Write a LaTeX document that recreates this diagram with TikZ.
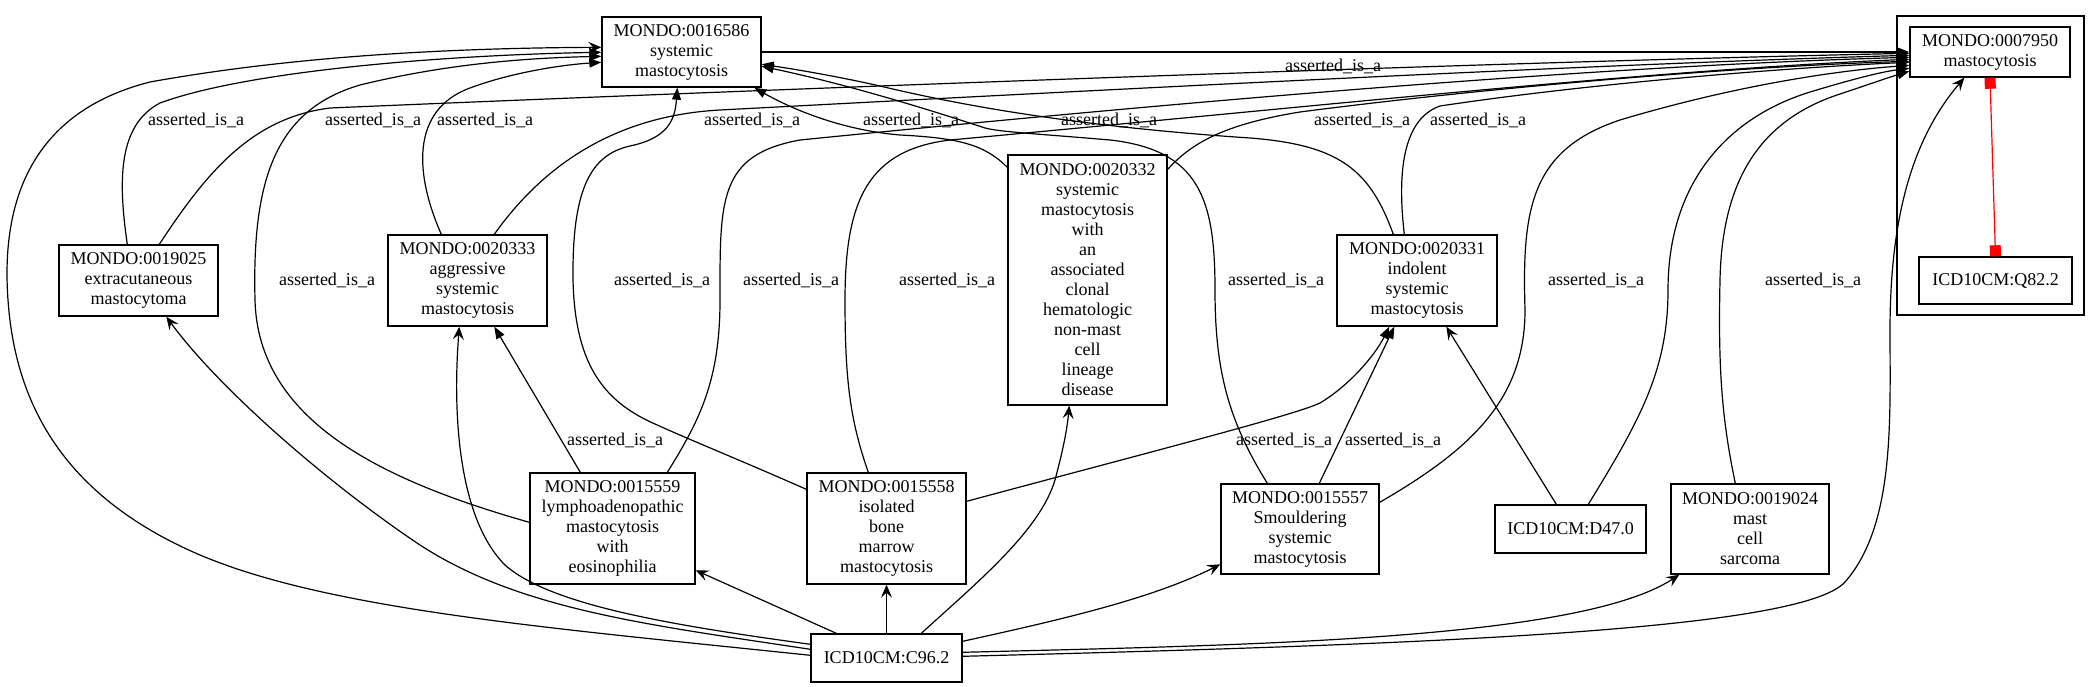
\documentclass[tikz,border=0pt]{standalone}
\usepackage{fontspec}
\setmainfont{Liberation Serif}
\newfontfamily\gvserif{Liberation Serif}
\usetikzlibrary{arrows.meta,calc}
\newcommand\gvfont{\gvserif\fontsize{18pt}{20pt}\selectfont}
\tikzset{
  box/.style={draw, line width=1.4pt, inner sep=0pt, align=center, font=\gvfont},
  lbl/.style={inner sep=0pt, font=\gvfont},
  isa/.style={line width=1.2pt, -{Triangle[length=12pt,width=9pt]}},
  xref/.style={line width=1.2pt, -{Stealth[length=13pt,width=11pt,inset=5pt]}},
  redlink/.style={draw=red, line width=1.2pt, {Square[length=11pt,fill=red]}-{Square[length=11pt,fill=red]}},
  cluster/.style={draw, line width=1.4pt}
}
\begin{document}
\begin{tikzpicture}[x=1pt,y=-1pt]
\fill[white] (0,0) rectangle (2092,687);
\useasboundingbox (0,0) rectangle (2092,687);

% cluster
\draw[cluster] (1897,16) rectangle (2084,315);

% nodes
\node[box, minimum width=159pt, minimum height=70pt] (a) at (681.5,52) {MONDO:0016586\\systemic\\mastocytosis};
\node[box, minimum width=160pt, minimum height=50pt] (b) at (1990,52) {MONDO:0007950\\mastocytosis};
\node[box, minimum width=153pt, minimum height=47pt] (q) at (1995.5,280.5) {ICD10CM:Q82.2};
\node[box, minimum width=159pt, minimum height=71pt] (c) at (138.5,280.5) {MONDO:0019025\\extracutaneous\\mastocytoma};
\node[box, minimum width=159pt, minimum height=91pt] (d) at (467.5,280.5) {MONDO:0020333\\aggressive\\systemic\\mastocytosis};
\node[box, minimum width=159pt, minimum height=250pt] (e) at (1087.5,280) {MONDO:0020332\\systemic\\mastocytosis\\with\\an\\associated\\clonal\\hematologic\\non-mast\\cell\\lineage\\disease};
\node[box, minimum width=160pt, minimum height=91pt] (f) at (1417,280.5) {MONDO:0020331\\indolent\\systemic\\mastocytosis};
\node[box, minimum width=165pt, minimum height=111pt] (g) at (612.5,528.5) {MONDO:0015559\\lymphoadenopathic\\mastocytosis\\with\\eosinophilia};
\node[box, minimum width=159pt, minimum height=111pt] (h) at (886.5,528.5) {MONDO:0015558\\isolated\\bone\\marrow\\mastocytosis};
\node[box, minimum width=158pt, minimum height=90pt] (i) at (1300,529) {MONDO:0015557\\Smouldering\\systemic\\mastocytosis};
\node[box, minimum width=151pt, minimum height=48pt] (j) at (1570.5,529) {ICD10CM:D47.0};
\node[box, minimum width=158pt, minimum height=90pt] (k) at (1750,529) {MONDO:0019024\\mast\\cell\\sarcoma};
\node[box, minimum width=151pt, minimum height=48pt] (l) at (886.5,658) {ICD10CM:C96.2};

% asserted_is_a edges
\draw[isa] (a.east) -- (b.west);
\draw[isa] ($(c.north west)+(69,0)$) .. controls (118,180) and (118,125) .. (160,103) .. controls (250,70) and (450,55) .. ($(a.north west)+(0,36)$);
\draw[isa] ($(c.north west)+(101,0)$) .. controls (205,175) and (250,118) .. (330,108) .. controls (800,88) and (1500,62) .. ($(b.north west)+(0,27)$);
\draw[isa] ($(d.north west)+(54,0)$) .. controls (415,175) and (410,110) .. (470,88) .. controls (510,73) and (560,65) .. ($(a.north west)+(0,46)$);
\draw[isa] ($(d.north west)+(107,0)$) .. controls (540,170) and (610,116) .. (720,110) .. controls (1100,90) and (1600,64) .. ($(b.north west)+(0,29)$);
\draw[isa] ($(g.north west)+(0,50)$) .. controls (380,480) and (258,420) .. (255,300) .. controls (252,180) and (275,110) .. (360,85) .. controls (450,63) and (530,58) .. ($(a.north west)+(0,40)$);
\draw[isa] ($(g.north west)+(138,0)$) .. controls (700,420) and (720,380) .. (720,300) .. controls (720,200) and (718,155) .. (800,140) .. controls (1200,100) and (1600,66) .. ($(b.north west)+(0,31)$);
\draw[isa] ($(g.north west)+(51,0)$) -- ($(d.south west)+(107,0)$);
\draw[isa] ($(h.north west)+(0,17)$) .. controls (740,460) and (690,440) .. (655,424) .. controls (600,400) and (575,360) .. (573,280) .. controls (572,190) and (590,155) .. (630,146) .. controls (668,138) and (675,120) .. ($(a.south west)+(76,0)$);
\draw[isa] ($(h.north west)+(62,0)$) .. controls (850,420) and (845,380) .. (845,300) .. controls (845,200) and (868,150) .. (950,140) .. controls (1300,108) and (1650,70) .. ($(b.north west)+(0,33)$);
\draw[isa] ($(h.north east)+(0,29)$) .. controls (1150,452) and (1295,415) .. (1320,403) .. controls (1350,385) and (1375,355) .. ($(f.south west)+(53,0)$);
\draw[isa] ($(e.north west)+(0,13)$) .. controls (985,145) and (960,138) .. (900,135) .. controls (840,130) and (790,108) .. ($(a.south west)+(153,0)$);
\draw[isa] ($(e.north east)+(0,15)$) .. controls (1190,145) and (1220,125) .. (1300,112) .. controls (1500,86) and (1750,66) .. ($(b.north west)+(0,35)$);
\draw[isa] ($(f.north west)+(57,0)$) .. controls (1370,170) and (1340,145) .. (1250,138) .. controls (1100,128) and (980,110) .. (880,86) .. controls (840,77) and (800,70) .. ($(a.north east)+(0,48)$);
\draw[isa] ($(f.north west)+(68,0)$) .. controls (1398,180) and (1400,120) .. (1440,106) .. controls (1600,82) and (1800,67) .. ($(b.north west)+(0,36)$);
\draw[isa] ($(i.north west)+(99,0)$) -- ($(f.south west)+(58,0)$);
\draw[isa] ($(i.north west)+(47,0)$) .. controls (1228,420) and (1215,370) .. (1215,290) .. controls (1215,200) and (1200,150) .. (1110,140) .. controls (1040,134) and (1000,132) .. (985,128) .. controls (930,110) and (850,85) .. ($(a.north east)+(0,50)$);
\draw[isa] ($(i.north east)+(0,19)$) .. controls (1470,450) and (1525,400) .. (1525,310) .. controls (1522,210) and (1530,150) .. (1620,120) .. controls (1720,90) and (1820,72) .. ($(b.north west)+(0,39)$);
\draw[isa] ($(k.north west)+(65,0)$) .. controls (1722,420) and (1718,370) .. (1720,280) .. controls (1722,180) and (1760,120) .. (1840,94) .. controls (1870,84) and (1890,77) .. ($(b.north west)+(0,45)$);
\draw[isa] ($(j.north west)+(94,0)$) .. controls (1640,420) and (1668,370) .. (1668,290) .. controls (1668,190) and (1720,120) .. (1810,92) .. controls (1850,80) and (1880,72) .. ($(b.north west)+(0,42)$);

% xref edges
\draw[xref] ($(j.north west)+(62,0)$) -- ($(f.south west)+(110,0)$);
\draw[xref] ($(l.north west)+(0,22)$) .. controls (550,628) and (330,610) .. (200,555) .. controls (60,495) and (15,400) .. (8,300) .. controls (0,190) and (40,110) .. (150,82) .. controls (300,55) and (460,48) .. ($(a.north west)+(0,31)$);
\draw[xref] ($(l.north west)+(0,16)$) .. controls (650,625) and (520,610) .. (420,545) .. controls (330,485) and (220,390) .. ($(c.south west)+(108,0)$);
\draw[xref] ($(l.north west)+(0,11)$) .. controls (670,625) and (550,605) .. (505,565) .. controls (460,520) and (452,420) .. ($(d.south west)+(72,0)$);
\draw[xref] ($(l.north west)+(26,0)$) -- ($(g.north east)+(0,98)$);
\draw[xref] (l.north) -- (h.south);
\draw[xref] ($(l.north west)+(111,0)$) .. controls (980,580) and (1040,530) .. (1055,480) .. controls (1063,450) and (1067,430) .. ($(e.south west)+(62,0)$);
\draw[xref] ($(l.north east)+(0,8)$) .. controls (1050,622) and (1150,600) .. ($(i.north west)+(0,81)$);
\draw[xref] ($(l.north east)+(0,19)$) .. controls (1250,645) and (1580,640) .. ($(k.south west)+(9,0)$);
\draw[xref] ($(l.north east)+(0,23)$) .. controls (1400,645) and (1800,632) .. (1845,582) .. controls (1895,525) and (1890,420) .. (1890,330) .. controls (1890,200) and (1920,130) .. ($(b.south west)+(55,0)$);

% red link
\draw[redlink] (b.south) -- (q.north);

% labels
\node[lbl] (t1) at (1333,66) {asserted\_is\_a};
\node[lbl] (t2) at (196,120) {asserted\_is\_a};
\node[lbl] (t3) at (373,120) {asserted\_is\_a};
\node[lbl] (t4) at (485,120) {asserted\_is\_a};
\node[lbl] (t5) at (752,120) {asserted\_is\_a};
\node[lbl] (t6) at (911,120) {asserted\_is\_a};
\node[lbl] (t7) at (1109,120) {asserted\_is\_a};
\node[lbl] (t8) at (1362,120) {asserted\_is\_a};
\node[lbl] (t9) at (1478,120) {asserted\_is\_a};
\node[lbl] (t10) at (327,280) {asserted\_is\_a};
\node[lbl] (t11) at (662,280) {asserted\_is\_a};
\node[lbl] (t12) at (791,280) {asserted\_is\_a};
\node[lbl] (t13) at (947,280) {asserted\_is\_a};
\node[lbl] (t14) at (1276,280) {asserted\_is\_a};
\node[lbl] (t15) at (1596,280) {asserted\_is\_a};
\node[lbl] (t16) at (1813,280) {asserted\_is\_a};
\node[lbl] (t17) at (615,440) {asserted\_is\_a};
\node[lbl] (t18) at (1284,440) {asserted\_is\_a};
\node[lbl] (t19) at (1393,440) {asserted\_is\_a};
\end{tikzpicture}
\end{document}
